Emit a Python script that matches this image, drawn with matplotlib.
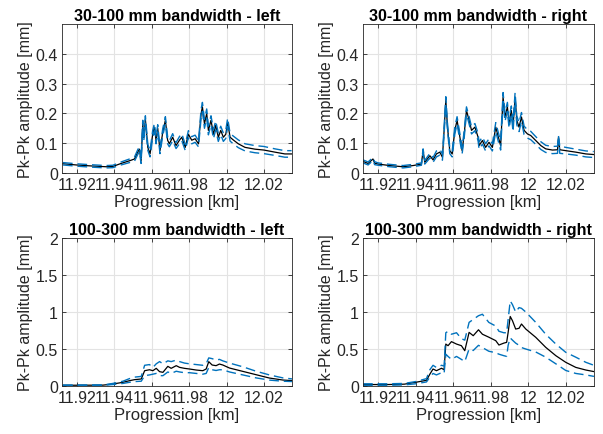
#!/usr/bin/env python3
# Pk-Pk amplitude vs progression, 2x2 panels (MATLAB-like look)

import matplotlib
matplotlib.use("Agg")
import matplotlib.pyplot as plt

# --- 30-100 mm, left ---
x_tl = [11.9125, 11.9196, 11.9268, 11.9356, 11.9392, 11.9436, 11.9481, 11.9508, 11.9525, 11.9534,
        11.9543, 11.9552, 11.9557, 11.9561, 11.9566, 11.9579, 11.9591, 11.9605, 11.9614, 11.9623,
        11.9632, 11.9644, 11.9659, 11.9673, 11.9685, 11.9694, 11.9712, 11.9730, 11.9748, 11.9761,
        11.9779, 11.9796, 11.9814, 11.9832, 11.9850, 11.9864, 11.9871, 11.9882, 11.9894, 11.9903,
        11.9917, 11.9930, 11.9942, 11.9956, 11.9969, 11.9983, 11.9996, 12.0006, 12.0019, 12.0036,
        12.0063, 12.0099, 12.0152, 12.0200, 12.0259, 12.0312, 12.0348]
mean_tl = [0.031, 0.027, 0.024, 0.021, 0.022, 0.032, 0.041, 0.047, 0.070, 0.080,
           0.040, 0.165, 0.120, 0.140, 0.180, 0.086, 0.064, 0.130, 0.154, 0.110,
           0.150, 0.075, 0.137, 0.177, 0.110, 0.098, 0.120, 0.092, 0.110, 0.120,
           0.086, 0.130, 0.110, 0.115, 0.098, 0.199, 0.222, 0.165, 0.200, 0.143,
           0.177, 0.130, 0.160, 0.120, 0.143, 0.120, 0.130, 0.170, 0.120, 0.111,
           0.098, 0.086, 0.080, 0.077, 0.070, 0.064, 0.064]
spread_tl = [0.004, 0.004, 0.004, 0.004, 0.004, 0.005, 0.006, 0.007, 0.008, 0.008,
             0.008, 0.012, 0.012, 0.012, 0.012, 0.010, 0.010, 0.012, 0.012, 0.012,
             0.012, 0.010, 0.012, 0.012, 0.012, 0.010, 0.012, 0.010, 0.012, 0.012,
             0.010, 0.012, 0.012, 0.012, 0.010, 0.015, 0.015, 0.015, 0.015, 0.015,
             0.015, 0.015, 0.015, 0.014, 0.014, 0.014, 0.014, 0.014, 0.013, 0.013,
             0.013, 0.012, 0.012, 0.012, 0.011, 0.011, 0.011]

# --- 30-100 mm, right ---
x_tr = [11.9120, 11.9147, 11.9173, 11.9182, 11.9200, 11.9262, 11.9333, 11.9387, 11.9431, 11.9440,
        11.9449, 11.9476, 11.9493, 11.9511, 11.9529, 11.9543, 11.9552, 11.9561, 11.9570, 11.9582,
        11.9595, 11.9609, 11.9621, 11.9636, 11.9648, 11.9659, 11.9671, 11.9685, 11.9698, 11.9716,
        11.9733, 11.9738, 11.9756, 11.9773, 11.9791, 11.9809, 11.9827, 11.9841, 11.9853, 11.9866,
        11.9876, 11.9889, 11.9898, 11.9910, 11.9919, 11.9930, 11.9939, 11.9951, 11.9964, 11.9978,
        11.9996, 12.0013, 12.0040, 12.0067, 12.0093, 12.0129, 12.0156, 12.0161, 12.0168, 12.0200,
        12.0253, 12.0307, 12.0349]
mean_tr = [0.039, 0.032, 0.047, 0.033, 0.030, 0.025, 0.021, 0.025, 0.030, 0.075,
           0.036, 0.058, 0.044, 0.064, 0.070, 0.053, 0.143, 0.244, 0.154, 0.075,
           0.064, 0.143, 0.177, 0.120, 0.075, 0.131, 0.210, 0.177, 0.143, 0.154,
           0.120, 0.092, 0.109, 0.086, 0.103, 0.086, 0.154, 0.120, 0.092, 0.255,
           0.188, 0.222, 0.165, 0.210, 0.154, 0.255, 0.177, 0.154, 0.188, 0.143,
           0.131, 0.126, 0.109, 0.092, 0.081, 0.077, 0.078, 0.120, 0.078, 0.075,
           0.070, 0.064, 0.062]
spread_tr = [0.005, 0.005, 0.005, 0.005, 0.004, 0.004, 0.004, 0.004, 0.004, 0.006,
             0.006, 0.008, 0.008, 0.010, 0.010, 0.010, 0.012, 0.012, 0.012, 0.010,
             0.010, 0.012, 0.012, 0.012, 0.010, 0.012, 0.012, 0.012, 0.012, 0.012,
             0.012, 0.012, 0.012, 0.012, 0.012, 0.012, 0.015, 0.015, 0.015, 0.015,
             0.015, 0.015, 0.015, 0.015, 0.015, 0.015, 0.015, 0.015, 0.015, 0.014,
             0.014, 0.014, 0.013, 0.013, 0.012, 0.012, 0.012, 0.005, 0.012, 0.011,
             0.010, 0.010, 0.010]

# --- 100-300 mm, left ---
x_bl = [11.9125, 11.9339, 11.9392, 11.9446, 11.9481, 11.9508, 11.9544, 11.9562, 11.9588, 11.9606,
        11.9624, 11.9642, 11.9660, 11.9686, 11.9704, 11.9731, 11.9749, 11.9775, 11.9802, 11.9838,
        11.9873, 11.9891, 11.9905, 11.9923, 11.9944, 11.9962, 11.9980, 12.0016, 12.0087, 12.0158,
        12.0229, 12.0301, 12.0354]
mean_bl = [0.010, 0.012, 0.027, 0.050, 0.072, 0.086, 0.095, 0.207, 0.220, 0.207,
           0.239, 0.194, 0.185, 0.266, 0.239, 0.275, 0.252, 0.239, 0.230, 0.216,
           0.207, 0.230, 0.329, 0.284, 0.275, 0.297, 0.284, 0.243, 0.198, 0.153,
           0.108, 0.081, 0.072]
hi_bl = [0.012, 0.014, 0.035, 0.065, 0.100, 0.120, 0.130, 0.280, 0.290, 0.250,
         0.300, 0.330, 0.300, 0.340, 0.330, 0.350, 0.330, 0.310, 0.300, 0.290,
         0.280, 0.300, 0.380, 0.370, 0.350, 0.360, 0.340, 0.310, 0.260, 0.200,
         0.150, 0.110, 0.095]
lo_bl = [0.008, 0.010, 0.020, 0.035, 0.050, 0.060, 0.065, 0.140, 0.150, 0.160,
         0.170, 0.140, 0.140, 0.190, 0.170, 0.200, 0.190, 0.180, 0.180, 0.170,
         0.160, 0.170, 0.250, 0.220, 0.210, 0.220, 0.220, 0.190, 0.150, 0.110,
         0.080, 0.065, 0.060]

# --- 100-300 mm, right ---
x_br = [11.9120, 11.9250, 11.9340, 11.9400, 11.9458, 11.9476, 11.9493, 11.9511, 11.9538, 11.9552,
        11.9561, 11.9573, 11.9591, 11.9618, 11.9644, 11.9662, 11.9685, 11.9707, 11.9735, 11.9756,
        11.9790, 11.9827, 11.9844, 11.9870, 11.9885, 11.9893, 11.9904, 11.9916, 11.9933, 11.9951,
        11.9964, 11.9987, 12.0040, 12.0093, 12.0147, 12.0200, 12.0253, 12.0307, 12.0350]
mean_br = [0.020, 0.020, 0.025, 0.050, 0.077, 0.160, 0.230, 0.207, 0.240, 0.220,
           0.567, 0.545, 0.600, 0.567, 0.545, 0.477, 0.725, 0.680, 0.760, 0.700,
           0.660, 0.613, 0.554, 0.580, 0.590, 0.725, 0.940, 0.883, 0.770, 0.780,
           0.838, 0.770, 0.658, 0.523, 0.410, 0.320, 0.252, 0.216, 0.195]
hi_br = [0.030, 0.030, 0.035, 0.060, 0.100, 0.220, 0.280, 0.250, 0.280, 0.270,
         0.720, 0.740, 0.700, 0.720, 0.640, 0.620, 0.860, 0.900, 0.950, 0.970,
         0.860, 0.810, 0.740, 0.720, 0.720, 0.900, 1.150, 1.100, 1.000, 1.060,
         1.050, 1.000, 0.860, 0.700, 0.567, 0.455, 0.390, 0.320, 0.280]
lo_br = [0.010, 0.010, 0.015, 0.030, 0.055, 0.120, 0.170, 0.150, 0.180, 0.170,
         0.430, 0.400, 0.360, 0.400, 0.360, 0.330, 0.500, 0.480, 0.550, 0.520,
         0.470, 0.450, 0.430, 0.410, 0.400, 0.550, 0.650, 0.620, 0.580, 0.550,
         0.520, 0.500, 0.460, 0.390, 0.300, 0.210, 0.170, 0.150, 0.130]

titles = ["30-100 mm bandwidth - left", "30-100 mm bandwidth - right",
          "100-300 mm bandwidth - left", "100-300 mm bandwidth - right"]
xticks = [11.92, 11.94, 11.96, 11.98, 12.0, 12.02]
xtick_labels = ["11.92", "11.94", "11.96", "11.98", "12", "12.02"]
yticks_top = [0, 0.1, 0.2, 0.3, 0.4]
ytick_labels_top = ["0", "0.1", "0.2", "0.3", "0.4"]
yticks_bot = [0, 0.5, 1, 1.5, 2]
ytick_labels_bot = ["0", "0.5", "1", "1.5", "2"]

BLUE = "#0072BD"
INK = "#262626"

plt.rcParams["font.family"] = ["Liberation Sans", "DejaVu Sans"]

fig = plt.figure(figsize=(6.03, 4.35), dpi=100)
boxes = [[0.1028, 0.600, 0.3814, 0.3425], [0.6020, 0.600, 0.3830, 0.3425],
         [0.1028, 0.1103, 0.3814, 0.3402], [0.6020, 0.1103, 0.3830, 0.3402]]

panels = [
    (x_tl, mean_tl, [m + s for m, s in zip(mean_tl, spread_tl)], [m - s for m, s in zip(mean_tl, spread_tl)]),
    (x_tr, mean_tr, [m + s for m, s in zip(mean_tr, spread_tr)], [m - s for m, s in zip(mean_tr, spread_tr)]),
    (x_bl, mean_bl, hi_bl, lo_bl),
    (x_br, mean_br, hi_br, lo_br),
]

for i, (box, (x, m, hi, lo)) in enumerate(zip(boxes, panels)):
    ax = fig.add_axes(box)
    ax.plot(x, m, color="black", lw=0.9)
    ax.plot(x, hi, color=BLUE, lw=1.0, ls=(0, (7, 3.5)))
    ax.plot(x, lo, color=BLUE, lw=1.0, ls=(0, (7, 3.5)))

    ax.set_xlim(11.912, 12.035)
    ax.set_xticks(xticks)
    ax.set_xticklabels(xtick_labels)
    if i < 2:
        ax.set_ylim(0, 0.5)
        ax.set_yticks(yticks_top)
        ax.set_yticklabels(ytick_labels_top)
    else:
        ax.set_ylim(0, 2)
        ax.set_yticks(yticks_bot)
        ax.set_yticklabels(ytick_labels_bot)

    ax.grid(color="#e3e3e3", lw=0.8)
    ax.set_axisbelow(True)
    ax.tick_params(direction="in", length=3, width=0.6, colors=INK, labelsize=11.5,
                   top=True, right=True, pad=3)
    for sp in ax.spines.values():
        sp.set_color(INK)
        sp.set_linewidth(0.6)
    ax.set_xlabel("Progression [km]", fontsize=12, color=INK, labelpad=1)
    ax.set_ylabel("Pk-Pk amplitude [mm]", fontsize=11.5, color=INK, labelpad=2)
    ax.set_title(titles[i], fontsize=11.5, fontweight="bold", color="black", pad=3)

fig.savefig("out.png", dpi=100)
